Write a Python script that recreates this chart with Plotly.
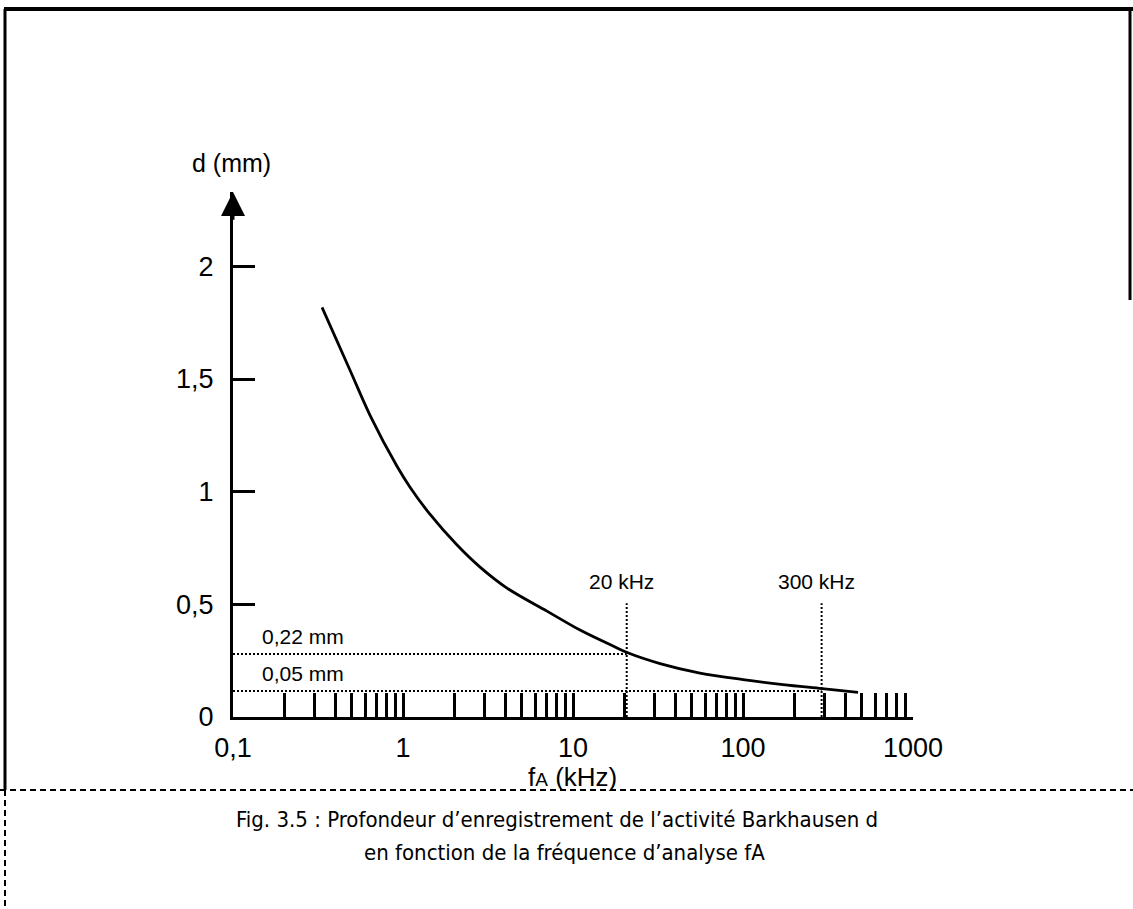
import math
import plotly.graph_objects as go

# Curve: analysis frequency (kHz) vs depth d (mm)
freq_khz = [0.334, 0.488, 0.64, 0.922, 1.1, 1.44, 2.08, 2.84, 4.09, 7.03, 11.0, 17.2, 20.8, 32.5, 55.8, 100, 172, 292, 475]
depth_mm = [1.818, 1.539, 1.339, 1.113, 1.02, 0.90, 0.763, 0.665, 0.572, 0.470, 0.386, 0.315, 0.286, 0.237, 0.195, 0.166, 0.144, 0.126, 0.109]

# Reference markers
marker_freqs = [20.7, 290]
marker_freq_labels = ["20 kHz", "300 kHz"]
marker_depths = [0.28, 0.115]
marker_depth_labels = ["0,22 mm", "0,05 mm"]
marker_top = 0.505

# Axis ticks
x_tickvals = [0.1, 0.2, 0.3, 0.4, 0.5, 0.6, 0.7, 0.8, 0.9,
              1, 2, 3, 4, 5, 6, 7, 8, 9,
              10, 20, 30, 40, 50, 60, 70, 80, 90,
              100, 200, 300, 400, 500, 600, 700, 800, 900, 1000]
x_labels = {0.1: "0,1", 1: "1", 10: "10", 100: "100", 1000: "1000"}
y_tickvals = [0, 0.5, 1, 1.5, 2]
y_ticktext = ["0", "0,5", "1", "1,5", "2"]
y_top = 2.33

W, H = 1133, 909
L, R, T, B = 233, 913, 192, 717  # plot area pixels

def px(xp):
    return (xp - L) / (R - L)

def py(yp):
    return (B - yp) / (B - T)

FONT = "Liberation Sans, Arial, Helvetica, sans-serif"
CAPFONT = "DejaVu Sans Condensed, Liberation Sans Narrow, sans-serif"
DOT = "2px,2px"

fig = go.Figure()

# dotted horizontal lines
for dval, fval in zip(marker_depths, marker_freqs):
    fig.add_trace(go.Scatter(x=[0.1, fval], y=[dval, dval], mode="lines",
                             line=dict(color="black", width=2, dash=DOT),
                             hoverinfo="skip", showlegend=False))
# dotted vertical lines
for fval in marker_freqs:
    fig.add_trace(go.Scatter(x=[fval, fval], y=[0, marker_top], mode="lines",
                             line=dict(color="black", width=2, dash=DOT),
                             hoverinfo="skip", showlegend=False))

# main curve
fig.add_trace(go.Scatter(x=freq_khz, y=depth_mm, mode="lines",
                         line=dict(color="black", width=2.8, shape="spline", smoothing=1.0),
                         showlegend=False))

annotations = []
# labels of markers
for fval, lab in zip(marker_freqs, marker_freq_labels):
    annotations.append(dict(x=math.log10(fval), y=marker_top, xref="x", yref="y", text=lab,
                            showarrow=False, xanchor="center", yanchor="bottom", yshift=8,
                            xshift=-5,
                            font=dict(size=21, color="black", family=FONT)))
for dval, lab in zip(marker_depths, marker_depth_labels):
    annotations.append(dict(x=px(260), y=dval, xref="paper", yref="y", text=lab,
                            showarrow=False, xanchor="left", yanchor="bottom", yshift=4,
                            font=dict(size=21, color="black", family=FONT)))
# y axis arrow
annotations.append(dict(x=-1, y=y_top, ax=-1, ay=2.2, xref="x", yref="y",
                        axref="x", ayref="y", text="", showarrow=True,
                        arrowhead=2, arrowsize=1.6, arrowwidth=3, arrowcolor="black",
                        standoff=0))
# y axis title
annotations.append(dict(x=px(231), y=py(163), xref="paper", yref="paper", text="d (mm)",
                        xanchor="center", yanchor="middle",
                        showarrow=False, font=dict(size=25, color="black", family=FONT)))
# x axis title
annotations.append(dict(x=px(572), y=py(777), xref="paper", yref="paper",
                        text="f<span style='font-size:19px'>A</span> (kHz)",
                        xanchor="center", yanchor="middle",
                        showarrow=False, font=dict(size=26, color="black", family=FONT)))
# caption (two lines)
annotations.append(dict(x=px(557), y=py(819), xref="paper", yref="paper",
                        text="Fig. 3.5 : Profondeur d’enregistrement de l’activité Barkhausen d",
                        xanchor="center", yanchor="middle", showarrow=False,
                        font=dict(size=22, color="black", family=CAPFONT)))
annotations.append(dict(x=px(564), y=py(852), xref="paper", yref="paper",
                        text="en fonction de la fréquence d’analyse fA",
                        xanchor="center", yanchor="middle", showarrow=False,
                        font=dict(size=22, color="black", family=CAPFONT)))

shapes = [
    # top border
    dict(type="line", xref="paper", yref="paper", x0=px(4), x1=px(1133), y0=py(9), y1=py(9),
         line=dict(color="black", width=4)),
    # left border solid
    dict(type="line", xref="paper", yref="paper", x0=px(5), x1=px(5), y0=py(9), y1=py(790),
         line=dict(color="black", width=3)),
    # right border partial
    dict(type="line", xref="paper", yref="paper", x0=px(1130), x1=px(1130), y0=py(9), y1=py(300),
         line=dict(color="black", width=3)),
    # dashed separator
    dict(type="line", xref="paper", yref="paper", x0=px(0), x1=px(1133), y0=py(790), y1=py(790),
         line=dict(color="black", width=2, dash="6px,4px")),
    # dashed left below
    dict(type="line", xref="paper", yref="paper", x0=px(5), x1=px(5), y0=py(790), y1=py(909),
         line=dict(color="black", width=2, dash="6px,4px")),
]

fig.update_layout(
    width=W, height=H,
    margin=dict(l=L, r=W - R, t=T, b=H - B, pad=0),
    paper_bgcolor="white", plot_bgcolor="white",
    annotations=annotations, shapes=shapes,
    showlegend=False,
    xaxis=dict(type="log", range=[-1, 3], tickmode="array", tickvals=x_tickvals,
               ticktext=[x_labels.get(v, "") for v in x_tickvals],
               ticks="inside", ticklen=24, tickwidth=2.5, tickcolor="black",
               showline=True, linecolor="black", linewidth=3,
               showgrid=False, zeroline=False, ticklabelstandoff=5,
               tickfont=dict(size=27, color="black", family=FONT)),
    yaxis=dict(range=[0, y_top], tickmode="array", tickvals=y_tickvals, ticktext=y_ticktext,
               ticks="inside", ticklen=22, tickwidth=2.5, tickcolor="black",
               showline=True, linecolor="black", linewidth=3,
               showgrid=False, zeroline=False, ticklabelstandoff=11,
               tickfont=dict(size=27, color="black", family=FONT)),
)

fig.write_html("out.html", config={"displayModeBar": False},
               post_script="document.body.style.margin='0px';")
